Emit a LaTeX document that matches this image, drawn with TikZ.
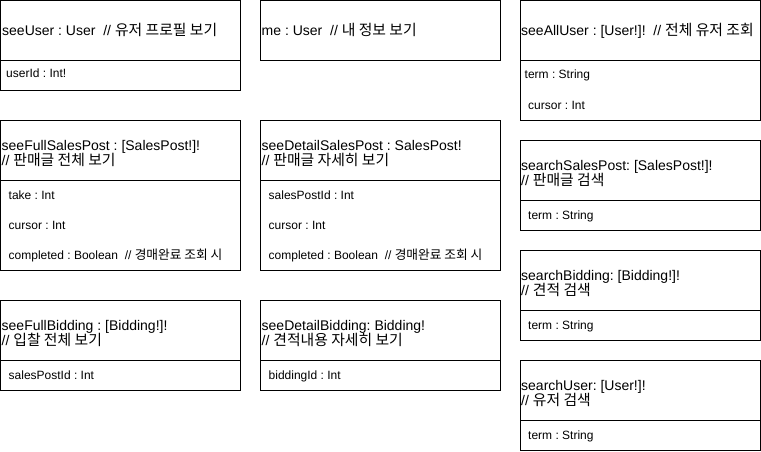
\documentclass[tikz,border=0pt]{standalone}
\usepackage{fontspec}
\setmainfont{Liberation Sans}
\newfontfamily\krfont[Scale=1.06]{Noto Sans CJK KR}
\newcommand\kr[1]{{\krfont #1}}
\frenchspacing

\begin{document}
\begin{tikzpicture}[
  x=1pt, y=-1pt,
  box/.style={line width=1pt},
  head/.style={anchor=base west, inner sep=0pt, align=left,
    font=\fontsize{14}{15.5}\selectfont},
  field/.style={anchor=base west, inner sep=0pt,
    font=\fontsize{12}{14}\selectfont}
]
  \useasboundingbox (0,0) rectangle (761,451);
  \draw[box] (0.5,0.5) rectangle (240.5,90.5) (0.5,60.5) -- (240.5,60.5);
  \node[head] (seeuser) at (2,35.5) {seeUser : User~ // \kr{유저 프로필 보기}};
  \node[field] (userid) at (6,77) {userId : Int!};

  \draw[box] (260.5,0.5) rectangle (500.5,60.5);
  \node[head] (me) at (261.5,35.5) {me : User~ // \kr{내 정보 보기}};

  \draw[box] (520.5,0.5) rectangle (760.5,120.5) (520.5,60.5) -- (760.5,60.5);
  \node[head] (seealluser) at (521,35.5) {seeAllUser : [User!]!~ // \kr{전체 유저 조회}};
  \node[field] (allterm) at (524.5,78) {term : String};
  \node[field] (allcursor) at (528,109) {cursor : Int};

  \draw[box] (0.5,120.5) rectangle (240.5,270.5) (0.5,180.5) -- (240.5,180.5);
  \node[head] (seefullpost) at (1.5,165.5)
    {seeFullSalesPost : [SalesPost!]!\\// \kr{판매글 전체 보기}};
  \node[field] (take) at (8.5,199) {take : Int};
  \node[field] (fullcursor) at (8.5,229) {cursor : Int};
  \node[field] (fullcompleted) at (8.5,259) {completed : Boolean~ // \kr{경매완료 조회 시}};

  \draw[box] (260.5,120.5) rectangle (500.5,270.5) (260.5,180.5) -- (500.5,180.5);
  \node[head] (seedetailpost) at (261.5,165.5)
    {seeDetailSalesPost : SalesPost!\\// \kr{판매글 자세히 보기}};
  \node[field] (postid) at (268.5,199) {salesPostId : Int};
  \node[field] (detailcursor) at (268.5,229) {cursor : Int};
  \node[field] (detailcompleted) at (268.5,259) {completed : Boolean~ // \kr{경매완료 조회 시}};

  \draw[box] (520.5,140.5) rectangle (760.5,230.5) (520.5,200.5) -- (760.5,200.5);
  \node[head] (searchpost) at (521,185.5) {searchSalesPost: [SalesPost!]!\\// \kr{판매글 검색}};
  \node[field] (postterm) at (528,219) {term : String};

  \draw[box] (0.5,300.5) rectangle (240.5,390.5) (0.5,360.5) -- (240.5,360.5);
  \node[head] (seefullbid) at (1.5,345.5) {seeFullBidding : [Bidding!]!\\// \kr{입찰 전체 보기}};
  \node[field] (bidpostid) at (8.5,379) {salesPostId : Int};

  \draw[box] (260.5,300.5) rectangle (500.5,390.5) (260.5,360.5) -- (500.5,360.5);
  \node[head] (seedetailbid) at (261.5,345.5) {seeDetailBidding: Bidding!\\// \kr{견적내용 자세히 보기}};
  \node[field] (biddingid) at (268.5,379) {biddingId : Int};

  \draw[box] (520.5,250.5) rectangle (760.5,340.5) (520.5,310.5) -- (760.5,310.5);
  \node[head] (searchbid) at (521,295.5) {searchBidding: [Bidding!]!\\// \kr{견적 검색}};
  \node[field] (bidterm) at (528,329) {term : String};

  \draw[box] (520.5,360.5) rectangle (760.5,450.5) (520.5,420.5) -- (760.5,420.5);
  \node[head] (searchuser) at (521,405.5) {searchUser: [User!]!\\// \kr{유저 검색}};
  \node[field] (userterm) at (528,439) {term : String};
\end{tikzpicture}
\end{document}
